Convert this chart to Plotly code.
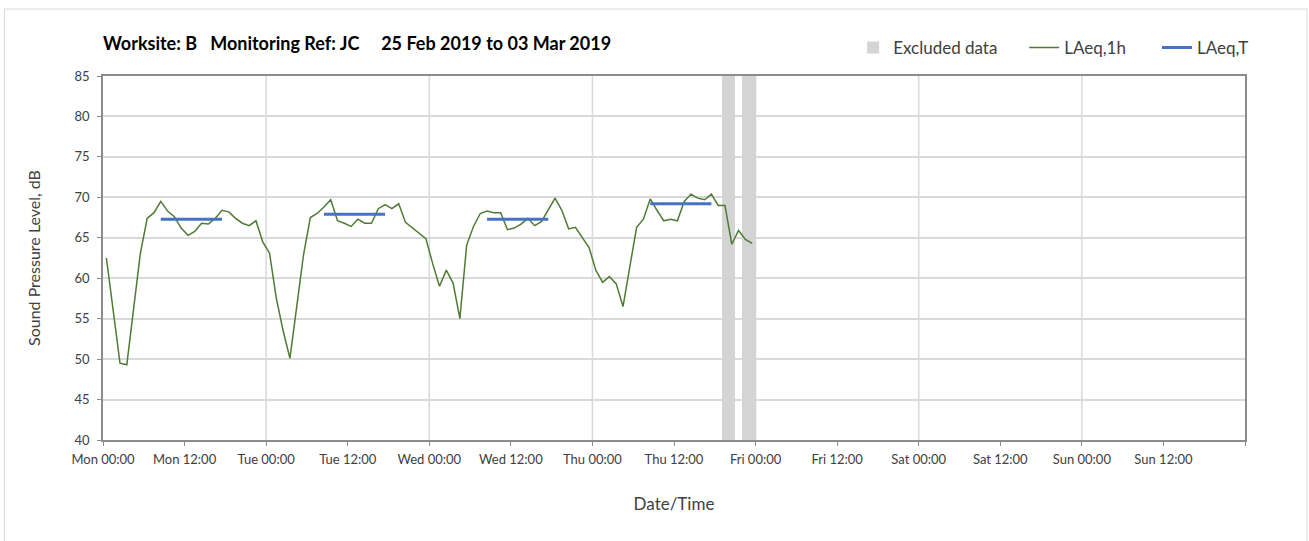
import pandas as pd
import plotly.graph_objects as go

# ---------------- data ----------------
start_time = "2019-02-25 00:30"   # first hourly LAeq,1h point (hour-centred)
laeq_1h = [
    62.5, 56.0, 49.5, 49.3, 56.0, 63.1, 67.4, 68.1, 69.5, 68.3, 67.6, 66.2,
    65.3, 65.8, 66.8, 66.7, 67.4, 68.4, 68.2, 67.4, 66.8, 66.5, 67.1, 64.5,
    63.1, 57.5, 53.5, 50.1, 56.5, 62.9, 67.5, 68.0, 68.8, 69.7, 67.1, 66.8,
    66.4, 67.3, 66.8, 66.8, 68.6, 69.1, 68.6, 69.2, 66.9, 66.2, 65.5, 64.9,
    61.8, 59.0, 61.0, 59.4, 55.0, 64.1, 66.4, 68.0, 68.3, 68.1, 68.1, 66.0,
    66.2, 66.7, 67.4, 66.5, 67.0, 68.5, 69.9, 68.4, 66.1, 66.3, 65.1, 63.8,
    61.0, 59.5, 60.2, 59.3, 56.5, 61.4, 66.3, 67.3, 69.8, 68.4, 67.1, 67.3,
    67.1, 69.5, 70.4, 69.9, 69.7, 70.4, 69.0, 69.0, 64.2, 65.9, 64.8, 64.3,
]
laeq_t_start = ["2019-02-25 08:30", "2019-02-26 08:30", "2019-02-27 08:30", "2019-02-28 08:30"]
laeq_t_end = ["2019-02-25 17:30", "2019-02-26 17:30", "2019-02-27 17:30", "2019-02-28 17:30"]
laeq_t = [67.3, 67.9, 67.3, 69.2]

excluded_centre = ["2019-02-28 20:00", "2019-02-28 23:00"]
excluded_width_h = [2, 2]

tick_times = pd.date_range("2019-02-25 00:00", "2019-03-04 00:00", freq="12h")
tick_text = ["Mon 00:00", "Mon 12:00", "Tue 00:00", "Tue 12:00", "Wed 00:00", "Wed 12:00",
             "Thu 00:00", "Thu 12:00", "Fri 00:00", "Fri 12:00", "Sat 00:00", "Sat 12:00",
             "Sun 00:00", "Sun 12:00", ""]
day_lines = pd.date_range("2019-02-26 00:00", "2019-03-03 00:00", freq="24h")
y_min, y_max = 40, 85

NB = "\u00a0"
title_text = f"Worksite: B{NB*3}Monitoring Ref: JC{NB*5}25 Feb 2019 to 03 Mar 2019"
series_names = [f"Excluded data{NB*5}", f"LAeq,1h{NB*6}", "LAeq,T"]

# ---------------- figure ----------------
FONT = "Lato, 'Open Sans', sans-serif"
times = pd.date_range(start_time, periods=len(laeq_1h), freq="h")

fig = go.Figure()

fig.add_trace(go.Bar(
    x=pd.to_datetime(excluded_centre),
    y=[y_max - y_min] * len(excluded_centre),
    base=y_min,
    width=[w * 3600 * 1000 for w in excluded_width_h],
    marker=dict(color="#d4d4d4", line=dict(width=0)),
    name=series_names[0],
))

fig.add_trace(go.Scatter(
    x=times, y=laeq_1h, mode="lines",
    line=dict(color="#4f7a34", width=1.5),
    name=series_names[1],
))

tx, ty = [], []
for s, e, v in zip(laeq_t_start, laeq_t_end, laeq_t):
    tx += [pd.Timestamp(s), pd.Timestamp(e), None]
    ty += [v, v, None]
fig.add_trace(go.Scatter(
    x=tx, y=ty, mode="lines",
    line=dict(color="#4472c4", width=3),
    name=series_names[2],
))

for d in day_lines:
    fig.add_shape(type="line", xref="x", yref="y", x0=d, x1=d, y0=y_min, y1=y_max,
                  line=dict(color="#d9d9d9", width=1.5), layer="below")

# outer chart border
fig.add_shape(type="rect", xref="paper", yref="paper",
              x0=-0.0864, x1=1.0543, y0=-0.30, y1=1.184,
              line=dict(color="#d9d9d9", width=1))

fig.update_layout(
    width=1309, height=541,
    margin=dict(l=103, r=64, t=76, b=101, autoexpand=False),
    paper_bgcolor="white", plot_bgcolor="white",
    font=dict(family=FONT, size=13, color="#404040"),
    title=dict(text=title_text, x=103 / 1309, xanchor="left", xref="container",
               y=1 - 44 / 541, yanchor="middle", yref="container",
               font=dict(family=FONT, size=18, color="#000000", weight="bold")),
    showlegend=True,
    legend=dict(orientation="h", x=1.008, xanchor="right", xref="paper",
                y=1.077, yanchor="middle", yref="paper",
                font=dict(size=17, color="#404040"), traceorder="normal",
                bgcolor="rgba(0,0,0,0)"),
    bargap=0,
)

fig.update_xaxes(
    type="date",
    range=[tick_times[0], tick_times[-1]],
    tickmode="array", tickvals=tick_times, ticktext=tick_text,
    showgrid=False, zeroline=False,
    showline=True, linecolor="#8c8c8c", linewidth=1.5, mirror=True,
    ticks="outside", ticklen=4, tickcolor="#8c8c8c", ticklabelstandoff=3,
    tickfont=dict(size=13, color="#404040"),
    title=dict(text="Date/Time", font=dict(size=17, color="#404040"), standoff=32),
)
fig.update_yaxes(
    range=[y_min, y_max], dtick=5, tick0=40,
    showgrid=True, gridcolor="#d9d9d9", gridwidth=1.5, zeroline=False,
    showline=True, linecolor="#8c8c8c", linewidth=1.5, mirror=True,
    ticks="outside", ticklen=4, tickcolor="#8c8c8c", ticklabelstandoff=5,
    tickfont=dict(size=13, color="#404040"),
    title=dict(text="Sound Pressure Level, dB", font=dict(size=16, color="#404040"), standoff=30),
)

fig.write_html("out.html", config={"displayModeBar": False},
               post_script="document.body.style.margin='0';")
